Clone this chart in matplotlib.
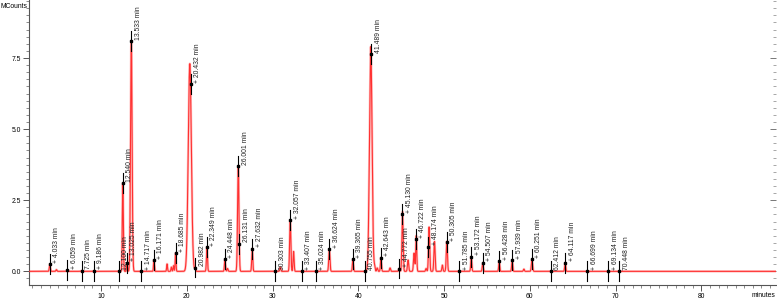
import numpy as np
import matplotlib
matplotlib.use("Agg")
import matplotlib.pyplot as plt
from matplotlib.ticker import MultipleLocator, FormatStrFormatter

plt.rcParams['font.family'] = ['Liberation Sans', 'DejaVu Sans']

# peaks: retention time (min), height (MCounts), width (sigma, min)
peak_rt = [4.03, 4.8, 6.06, 7.73, 9.19, 12.54, 13.03, 13.53, 16.17, 17.7, 18.2, 18.45,
           18.69, 20.35, 20.98, 22.35, 24.45, 24.75, 26.0, 27.63, 30.9, 32.06, 32.45,
           36.62, 39.37, 41.45, 41.9, 42.2, 42.64, 43.7, 44.77, 45.15, 45.8, 46.5,
           46.75, 47.9, 48.25, 48.88, 49.8, 50.32, 53.17, 54.51, 56.43, 57.94, 59.3,
           60.25, 64.12]
peak_height = [0.25, 0.06, 0.04, 0.02, 0.02, 3.1, 0.3, 8.1, 0.4, 0.26, 0.15, 0.2,
               0.64, 7.3, 0.12, 0.85, 0.42, 0.1, 3.7, 0.8, 0.15, 1.8, 0.7,
               0.78, 0.42, 7.9, 0.15, 0.12, 0.48, 0.12, 0.1, 2.1, 0.4, 0.64,
               1.25, 0.1, 1.56, 1.05, 0.22, 1.05, 0.52, 0.3, 0.35, 0.4, 0.08,
               0.42, 0.3]
peak_sigma = [0.06, 0.06, 0.06, 0.06, 0.06, 0.06, 0.05, 0.09, 0.05, 0.05, 0.05, 0.05,
              0.05, 0.18, 0.06, 0.06, 0.06, 0.06, 0.08, 0.06, 0.06, 0.07, 0.06,
              0.07, 0.06, 0.15, 0.06, 0.06, 0.06, 0.06, 0.06, 0.07, 0.07, 0.07,
              0.06, 0.06, 0.07, 0.07, 0.06, 0.07, 0.06, 0.06, 0.06, 0.06, 0.06,
              0.07, 0.06]

# integration marks and their labels
label_rt = [4.033, 6.059, 7.725, 9.186, 12.100, 12.540, 13.025, 13.533, 14.717, 16.171,
            18.685, 20.432, 20.982, 22.349, 24.448, 26.001, 26.131, 27.632, 30.303,
            32.057, 33.407, 35.024, 36.624, 39.365, 40.755, 41.489, 42.643, 44.772,
            45.130, 46.722, 48.174, 50.305, 51.785, 53.172, 54.507, 56.428, 57.939,
            60.251, 62.412, 64.117, 66.699, 69.134, 70.448]
no_plus = {7.725, 12.100, 12.540, 13.533, 20.982, 26.001, 26.131, 30.303, 40.755,
           41.489, 62.412, 70.448}

t = np.linspace(1.6, 88.7, 20000)
signal = np.zeros_like(t)
for rt, h, s in zip(peak_rt, peak_height, peak_sigma):
    signal += h * np.exp(-0.5 * ((t - rt) / s) ** 2)

fig = plt.figure(figsize=(7.77, 3.01), dpi=100)
ax = fig.add_axes([29 / 777, 16 / 301, 747 / 777, 285 / 301])

ax.plot(t, signal, color='#ff9a9a', lw=1.8, alpha=0.6, zorder=2)
ax.plot(t, signal, color='#ff3030', lw=0.8, zorder=3)

for rt in label_rt:
    y = np.interp(rt, t, signal)
    ax.plot([rt, rt], [y - 0.35, y + 0.35], color='black', lw=0.8, zorder=4)
    ax.plot(rt, y, 's', color='black', ms=1.6, zorder=5)
    txt = f"{rt:.3f} min" if rt in no_plus else f"+ {rt:.3f} min"
    ax.text(rt + 0.4, y + 0.05, txt, rotation=90, rotation_mode='anchor',
            ha='left', va='top', fontsize=4.9, color='#222222', zorder=6)

ax.set_xlim(1.6, 88.7)
ax.set_ylim(-0.48, 9.54)

ax.spines['top'].set_visible(False)
ax.spines['right'].set_visible(False)
for sp in ('left', 'bottom'):
    ax.spines[sp].set_color('#555555')
    ax.spines[sp].set_linewidth(0.8)

ax.xaxis.set_major_locator(MultipleLocator(10))
ax.xaxis.set_minor_locator(MultipleLocator(1))
ax.yaxis.set_major_locator(MultipleLocator(2.5))
ax.yaxis.set_minor_locator(MultipleLocator(0.25))
ax.yaxis.set_major_formatter(FormatStrFormatter('%.1f'))
ax.tick_params(which='major', direction='out', length=4, width=0.7, color='#555555',
               labelsize=4.9, pad=1.5)
ax.tick_params(which='minor', direction='out', length=2, width=0.6, color='#777777')

sec = ax.secondary_yaxis('right')
sec.spines['right'].set_visible(False)
sec.yaxis.set_major_locator(MultipleLocator(2.5))
sec.yaxis.set_minor_locator(MultipleLocator(0.25))
sec.tick_params(which='major', direction='in', length=4, width=0.7, color='#777777',
                labelright=False)
sec.tick_params(which='minor', direction='in', length=2, width=0.6, color='#999999')

fig.text(0.001, 0.99, 'MCounts', fontsize=4.9, ha='left', va='top')
fig.text(0.998, 0.005, 'minutes', fontsize=4.9, ha='right', va='bottom')

fig.savefig('out.png', dpi=100)
